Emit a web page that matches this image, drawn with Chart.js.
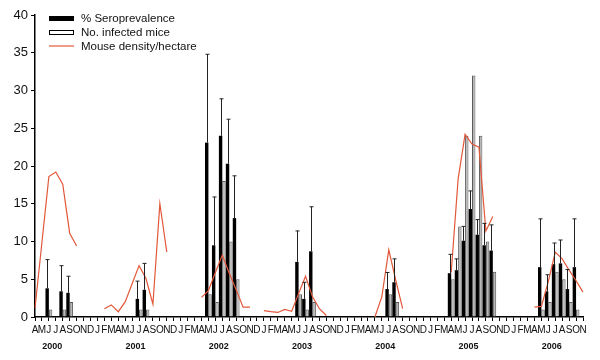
<!DOCTYPE html>
<html>
<head>
<meta charset="utf-8">
<script src="https://cdn.jsdelivr.net/npm/chart.js@4.4.1/dist/chart.umd.min.js"></script>
<style>
  html, body { margin: 0; padding: 0; background: #fff; }
  #wrap { width: 600px; height: 360px; position: relative; }
</style>
</head>
<body>
<div id="wrap"><canvas id="chart"></canvas></div>
<script>
// month letters per year (2000 starts in April, 2006 ends in November)
const years = ['2000', '2001', '2002', '2003', '2004', '2005', '2006'];
const yearStartMonth = [4, 1, 1, 1, 1, 1, 1];
const yearMonths = [
    ['A','M','J','J','A','S','O','N','D'],
    ['J','F','M','A','M','J','J','A','S','O','N','D'],
    ['J','F','M','A','M','J','J','A','S','O','N','D'],
    ['J','F','M','A','M','J','J','A','S','O','N','D'],
    ['J','F','M','A','M','J','J','A','S','O','N','D'],
    ['J','F','M','A','M','J','J','A','S','O','N','D'],
    ['J','F','M','A','M','J','J','A','S','O','N']
];

// % seroprevalence (black bars), one row per year
const seroprevalence = [
    null, null, 3.8, null, 3.4, 3.2, null, null, null,
    null, null, null, null, null, null, 2.4, 3.6, null, null, null, null,
    null, null, null, null, 23.1, 9.5, 24.0, 20.3, 13.1, null, null, null,
    null, null, null, null, null, 7.3, 2.4, 8.7, null, null, null, null,
    null, null, null, null, null, null, 3.7, 4.6, null, null, null, null,
    null, null, null, 5.8, 6.2, 10.1, 14.3, 10.9, 9.5, 8.8, null, null,
    null, null, null, null, 6.6, 3.4, 7.0, 7.1, 3.7, 6.6, null
];

// upper end of the error bars on the seroprevalence bars
const seroUpper = [
    null, null, 7.6, null, 6.8, 5.4, null, null, null,
    null, null, null, null, null, null, 4.75, 7.1, null, null, null, null,
    null, null, null, null, 34.8, 15.9, 28.9, 26.2, 18.7, null, null, null,
    null, null, null, null, null, 11.4, 4.6, 14.6, null, null, null, null,
    null, null, null, null, null, null, 5.9, 7.7, null, null, null, null,
    null, null, null, 8.3, 7.7, 12.0, 16.7, 12.9, 12.4, 12.2, null, null,
    null, null, null, null, 13.0, 5.6, 9.8, 10.2, 6.3, 13.0, null
];

// no. infected mice (white/grey bars)
const infectedMice = [
    null, null, 1, null, 1, 2, null, null, null,
    null, null, null, null, null, null, 1, 1, null, null, null, null,
    null, null, null, null, 3, 2, 18, 10, 5, null, null, null,
    null, null, null, null, null, 3, 1, 2, null, null, null, null,
    null, null, null, null, null, null, 3, 2, null, null, null, null,
    null, null, null, 5, 12, 24, 32, 24, 10, 6, null, null,
    null, null, null, null, 1, 2, 6, 5, 2, 1, null
];

// mouse density per hectare (red line)
const mouseDensity = [
    1.2, 9.9, 18.6, 19.2, 17.6, 11.1, 9.4, null, null,
    null, 1.1, 1.6, 0.7, 2.0, 4.4, 6.8, 5.1, 1.7, 15.0, 8.6, null,
    null, null, null, 2.6, 3.5, 5.9, 8.2, 5.8, 3.6, 1.3, 1.3, null,
    0.85, 0.7, 0.6, 1.0, 0.75, 3.1, 5.4, 2.7, 1.1, 0.2, null, null,
    null, null, null, null, 0, 2.7, 8.9, 4.9, 1.1, null, null, null,
    null, null, null, 5.9, 18.3, 24.2, 22.9, 22.5, 11.4, 13.3, null, null,
    null, null, null, 1.3, 1.4, 4.7, 8.6, 7.7, 6.2, 4.8, 3.3
];

const yTicks = [0, 5, 10, 15, 20, 25, 30, 35, 40];

const monthLabels = yearMonths.flat();

const lineColor = '#e2583a';
const fontFamily = 'Arial, "Liberation Sans", sans-serif';
Chart.defaults.font.family = fontFamily;

// 誤差線
const errorBars = {
    id: 'errorBars',
    afterDatasetsDraw(chart) {
        const meta = chart.getDatasetMeta(1);
        const yScale = chart.scales.y;
        const ctx = chart.ctx;
        ctx.save();
        ctx.strokeStyle = '#222';
        ctx.lineWidth = 1;
        meta.data.forEach((bar, i) => {
            if (seroUpper[i] == null || seroprevalence[i] == null) return;
            const x = Math.round(bar.x) + 0.5;
            const yTop = yScale.getPixelForValue(seroUpper[i]);
            ctx.beginPath();
            ctx.moveTo(x, bar.y);
            ctx.lineTo(x, yTop);
            ctx.moveTo(x - 2, yTop);
            ctx.lineTo(x + 2, yTop);
            ctx.stroke();
        });
        ctx.restore();
    }
};

// 年份標籤
const yearLabels = {
    id: 'yearLabels',
    afterDraw(chart) {
        const xScale = chart.scales.x;
        const ctx = chart.ctx;
        const step = xScale.getPixelForValue(1) - xScale.getPixelForValue(0);
        ctx.save();
        ctx.font = 'bold 9px ' + fontFamily;
        ctx.fillStyle = '#111';
        ctx.textAlign = 'center';
        ctx.textBaseline = 'middle';
        let start = 0;
        years.forEach((year, k) => {
            const jan = start - (yearStartMonth[k] - 1);
            const x = xScale.getPixelForValue(0) + (jan + 5.5) * step;
            ctx.fillText(year, x, 347);
            start += yearMonths[k].length;
        });
        ctx.restore();
    }
};

// 圖例
const customLegend = {
    id: 'customLegend',
    afterDraw(chart) {
        const ctx = chart.ctx;
        ctx.save();
        ctx.fillStyle = '#000';
        ctx.fillRect(49, 16, 25, 5);
        ctx.fillStyle = '#fff';
        ctx.fillRect(49, 30, 25, 5);
        ctx.strokeStyle = '#000';
        ctx.lineWidth = 1;
        ctx.strokeRect(49.5, 30.5, 24, 4);
        ctx.strokeStyle = lineColor;
        ctx.lineWidth = 1.2;
        ctx.beginPath();
        ctx.moveTo(49, 46);
        ctx.lineTo(74, 46);
        ctx.stroke();
        ctx.font = '11.5px ' + fontFamily;
        ctx.fillStyle = '#111';
        ctx.textBaseline = 'middle';
        ctx.fillText('% Seroprevalence', 81, 19);
        ctx.fillText('No. infected mice', 81, 33);
        ctx.fillText('Mouse density/hectare', 81, 46.5);
        ctx.restore();
    }
};

new Chart(document.getElementById('chart'), {
    type: 'bar',
    data: {
        labels: monthLabels,
        datasets: [
            {
                type: 'line',
                label: 'Mouse density/hectare',
                data: mouseDensity,
                borderColor: lineColor,
                borderWidth: 1.2,
                pointRadius: 0,
                spanGaps: false,
                tension: 0,
                fill: false,
                order: 0
            },
            {
                label: '% Seroprevalence',
                data: seroprevalence,
                backgroundColor: '#000',
                borderWidth: 0,
                categoryPercentage: 0.98,
                barPercentage: 1,
                order: 1
            },
            {
                label: 'No. infected mice',
                data: infectedMice,
                backgroundColor: '#b8b8b8',
                borderColor: '#5a5a5a',
                borderWidth: 1,
                categoryPercentage: 0.98,
                barPercentage: 1,
                order: 1
            }
        ]
    },
    options: {
        responsive: true,
        maintainAspectRatio: false,
        animation: false,
        layout: { padding: { top: 15, right: 17, left: 0, bottom: 0 } },
        plugins: {
            legend: { display: false },
            tooltip: { enabled: false }
        },
        scales: {
            x: {
                type: 'category',
                offset: false,
                grid: { drawOnChartArea: false, offset: false, tickLength: 4, color: '#000' },
                border: { color: '#000', width: 1.5 },
                ticks: {
                    autoSkip: false, maxRotation: 0, minRotation: 0, padding: 3,
                    color: '#111', font: { size: 10 }
                },
                afterFit(scale) { scale.height = 43; }
            },
            y: {
                min: 0,
                max: 40,
                afterBuildTicks(scale) { scale.ticks = yTicks.map(v => ({ value: v })); },
                grid: { drawOnChartArea: false, tickLength: 4, color: '#000' },
                border: { color: '#000', width: 1.5 },
                ticks: { color: '#111', font: { size: 13 }, padding: 3 },
                afterFit(scale) { scale.width = 35; }
            }
        }
    },
    plugins: [errorBars, yearLabels, customLegend]
});
</script>
</body>
</html>
